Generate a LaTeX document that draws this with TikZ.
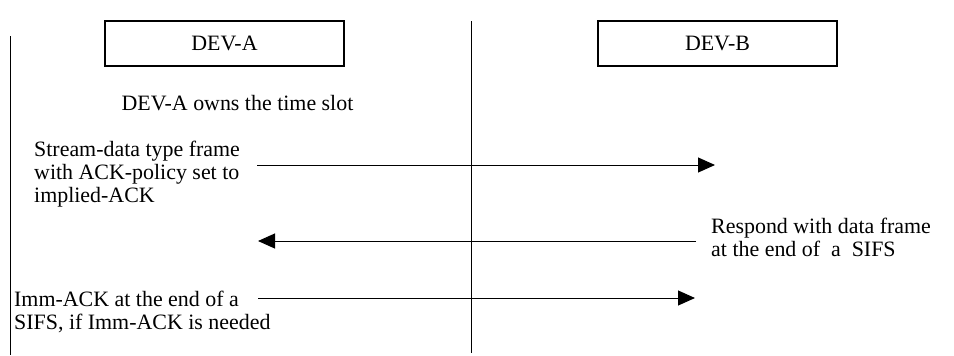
\documentclass[tikz,border=0pt]{standalone}
\usepackage{fontspec}
\setmainfont{Liberation Serif}
\usetikzlibrary{arrows.meta}
\begin{document}
\begin{tikzpicture}[x=1bp,y=-1bp,
  txt/.style={font=\fontsize{22}{23}\selectfont, inner sep=0pt, align=left},
  devbox/.style={draw, line width=1.1pt, minimum width=239bp, minimum height=45bp, inner sep=0pt, font=\fontsize{22}{23}\selectfont},
  life/.style={line width=1pt},
  msg/.style={line width=1pt, -{Triangle[length=17bp,width=15bp]}}]
\useasboundingbox (0,0) rectangle (954,355);
% lifelines
\coordinate (lt) at (10,36);
\coordinate (lb) at (10,355);
\coordinate (mt) at (471,21);
\coordinate (mb) at (471,353);
\draw[life] (lt) -- (lb);
\draw[life] (mt) -- (mb);
% device boxes
\node[devbox] (deva) at (224.5,43.5) {DEV-A};
\node[devbox] (devb) at (717.5,43.5) {DEV-B};
% labels
\node[txt, anchor=center] (owns) at (237.5,103) {DEV-A owns the time slot};
\node[txt, anchor=north west] (l1) at (34,141) {Stream-data type frame\\with ACK-policy set to\\implied-ACK};
\node[txt, anchor=north west] (l2) at (711,218) {Respond with data frame\\at the end of \ a \ SIFS};
\node[txt, anchor=north west] (l3) at (14,290.5) {Imm-ACK at the end of a\\SIFS, if Imm-ACK is needed};
% messages
\coordinate (m1s) at (257,165);
\coordinate (m1e) at (715,165);
\coordinate (m2s) at (696,241);
\coordinate (m2e) at (258,241);
\coordinate (m3s) at (258,298);
\coordinate (m3e) at (695,298);
\draw[msg] (m1s) -- (m1e);
\draw[msg] (m2s) -- (m2e);
\draw[msg] (m3s) -- (m3e);
\end{tikzpicture}
\end{document}
